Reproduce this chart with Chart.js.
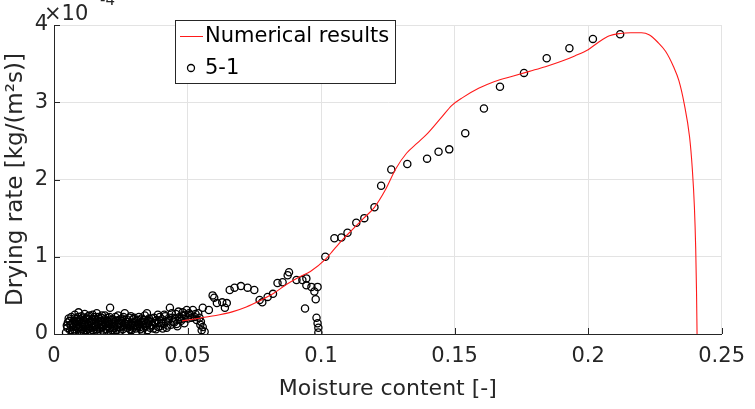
<!DOCTYPE html>
<html>
<head>
<meta charset="utf-8">
<script src="https://cdn.jsdelivr.net/npm/chart.js@4/dist/chart.umd.min.js"></script>
<style>
  html, body { margin: 0; padding: 0; background: #fff; }
  #wrap { width: 755px; height: 409px; }
</style>
</head>
<body>
<div id="wrap"><canvas id="myChart" width="755" height="409"></canvas></div>
<script>
// x ticks (moisture content) and y ticks (drying rate, in units of 1e-4)
const xTicks = [0, 0.05, 0.1, 0.15, 0.2, 0.25];
const yTicks = [0, 1, 2, 3, 4];

// Numerical results (red line), drying rate x 1e-4
const simX = [0.048, 0.052, 0.057, 0.062, 0.067, 0.072, 0.077, 0.082, 0.087, 0.092,
              0.096, 0.102, 0.104, 0.108, 0.112, 0.116, 0.120, 0.124, 0.128, 0.132,
              0.136, 0.140, 0.145, 0.149, 0.153, 0.159, 0.165, 0.172, 0.178, 0.184,
              0.190, 0.195, 0.200, 0.204, 0.208, 0.212, 0.216, 0.220, 0.223, 0.226,
              0.229, 0.232, 0.234, 0.236, 0.238, 0.239, 0.2398, 0.2403, 0.2406, 0.2408];
const simY = [0.17, 0.19, 0.22, 0.25, 0.29, 0.35, 0.43, 0.52, 0.64, 0.74,
              0.81, 0.98, 1.06, 1.22, 1.36, 1.50, 1.64, 1.86, 2.14, 2.34,
              2.47, 2.60, 2.80, 2.96, 3.06, 3.18, 3.27, 3.34, 3.40, 3.46,
              3.53, 3.60, 3.68, 3.78, 3.86, 3.89, 3.90, 3.90, 3.87, 3.78,
              3.66, 3.46, 3.28, 2.98, 2.55, 2.15, 1.65, 1.10, 0.55, 0];

// Experiment 5-1 (circles), pairs [moisture, drying rate x 1e-4]
const exp51 = [
  [0.0045,0.02],[0.005,0.08],[0.0052,0.15],[0.0055,0.2],[0.006,0.05],[0.0062,0.12],[0.0065,0.22],
  [0.007,0.01],[0.0072,0.09],[0.0075,0.17],[0.0078,0.25],[0.008,0.04],[0.0083,0.13],[0.0086,0.2],
  [0.009,0.07],[0.0092,0.28],[0.0095,0.16],[0.0098,0.02],[0.010,0.11],[0.0103,0.23],[0.0106,0.06],
  [0.011,0.18],[0.0112,0.14],[0.0115,0.26],[0.0118,0.03],[0.012,0.1],
  [0.0048,0.11],[0.0058,0.17],[0.0068,0.03],[0.0069,0.14],[0.0074,0.06],[0.0077,0.2],[0.0081,0.1],
  [0.0085,0.01],[0.0088,0.16],[0.0091,0.22],[0.0094,0.09],[0.0097,0.19],[0.0101,0.04],[0.0104,0.15],
  [0.0108,0.21],[0.0109,0.09],[0.0113,0.01],[0.0116,0.12],[0.0119,0.2],[0.0121,0.05],
  [0.0123,0.2],[0.0126,0.07],[0.013,0.15],[0.0133,0.24],[0.0136,0.01],[0.014,0.12],[0.0143,0.19],
  [0.0146,0.05],[0.015,0.22],[0.0153,0.09],[0.0156,0.16],[0.016,0.27],[0.0163,0.03],[0.0166,0.13],
  [0.017,0.2],[0.0173,0.08],[0.0176,0.17],[0.018,0.24],[0.0183,0.04],[0.0186,0.11],[0.019,0.19],
  [0.0193,0.14],[0.0196,0.06],[0.02,0.21],[0.0203,0.1],[0.0206,0.16],[0.021,0.34],[0.0213,0.02],
  [0.0216,0.13],[0.022,0.19],
  [0.0125,0.13],[0.0128,0.23],[0.0131,0.1],[0.0134,0.04],[0.0138,0.17],[0.0141,0.08],[0.0145,0.25],
  [0.0148,0.14],[0.0151,0.02],[0.0155,0.19],[0.0158,0.11],[0.0161,0.06],[0.0165,0.22],[0.0168,0.15],
  [0.0171,0.01],[0.0175,0.12],[0.0178,0.21],[0.0181,0.09],[0.0185,0.16],[0.0188,0.02],[0.0191,0.24],
  [0.0195,0.1],[0.0198,0.17],[0.0201,0.04],[0.0205,0.13],[0.0208,0.22],[0.0211,0.08],[0.0215,0.18],
  [0.0218,0.05],
  [0.0223,0.08],[0.0227,0.15],[0.023,0.22],[0.0234,0.05],[0.0238,0.12],[0.0242,0.18],[0.0246,0.09],
  [0.025,0.14],[0.0254,0.2],[0.0258,0.06],[0.0262,0.11],[0.0265,0.27],[0.027,0.16],[0.0274,0.08],
  [0.0278,0.13],[0.0282,0.21],[0.0286,0.1],[0.029,0.05],[0.0294,0.15],[0.0298,0.19],[0.0302,0.11],
  [0.0306,0.07],[0.031,0.17],[0.0314,0.13],[0.0318,0.22],[0.0322,0.09],[0.0326,0.15],[0.033,0.04],
  [0.0334,0.12],[0.0338,0.18],[0.0342,0.1],[0.0348,0.27],[0.0352,0.14],[0.0356,0.2],[0.036,0.08],
  [0.0225,0.11],[0.0229,0.02],[0.0232,0.17],[0.0236,0.09],[0.024,0.24],[0.0244,0.13],[0.0248,0.04],
  [0.0252,0.17],[0.0256,0.1],[0.026,0.22],[0.0264,0.14],[0.0268,0.03],[0.0272,0.19],[0.0276,0.11],
  [0.028,0.16],[0.0284,0.06],[0.0288,0.23],[0.0292,0.12],[0.0296,0.08],[0.03,0.21],[0.0304,0.15],
  [0.0308,0.03],[0.0312,0.1],[0.0316,0.18],[0.032,0.13],[0.0324,0.06],[0.0328,0.2],[0.0332,0.16],
  [0.0336,0.08],[0.034,0.24],[0.0345,0.14],[0.035,0.05],[0.0354,0.17],[0.0358,0.11],
  [0.0365,0.16],[0.037,0.11],[0.0375,0.21],[0.0382,0.06],[0.0389,0.25],[0.0393,0.15],[0.0398,0.1],
  [0.0404,0.19],[0.041,0.13],[0.0416,0.23],[0.0422,0.08],[0.0428,0.17],[0.0434,0.34],[0.0438,0.12],
  [0.0444,0.21],[0.045,0.15],[0.0456,0.26],[0.0462,0.1],[0.047,0.22],[0.0476,0.17],[0.0482,0.28],
  [0.0488,0.14],[0.0497,0.31],[0.0502,0.2],[0.051,0.25],[0.052,0.31],[0.0526,0.22],[0.0534,0.18],
  [0.054,0.27],[0.0548,0.12],[0.0557,0.09],[0.0564,0.03],[0.0557,0.34],
  [0.0368,0.2],[0.0372,0.07],[0.0378,0.14],[0.0385,0.18],[0.039,0.09],[0.0396,0.22],[0.0401,0.14],
  [0.0407,0.07],[0.0413,0.25],[0.0419,0.16],[0.0425,0.11],[0.0431,0.21],[0.0441,0.27],[0.0447,0.16],
  [0.0453,0.2],[0.0459,0.13],[0.0466,0.29],[0.0473,0.19],[0.0479,0.24],[0.0485,0.2],[0.0492,0.25],
  [0.0506,0.27],[0.0515,0.21],[0.053,0.26],[0.0545,0.21],[0.055,0.16],[0.0553,0.05],
  [0.058,0.31],[0.0594,0.5],[0.060,0.47],[0.061,0.4],[0.063,0.41],[0.064,0.34],[0.0647,0.4],
  [0.0658,0.57],[0.0676,0.6],[0.070,0.62],[0.0725,0.6],[0.075,0.57],[0.077,0.44],[0.078,0.41],
  [0.080,0.48],[0.082,0.52],[0.0837,0.66],[0.0856,0.67],[0.0875,0.76],[0.088,0.8],[0.0908,0.7],
  [0.093,0.7],[0.0945,0.72],[0.0945,0.63],[0.0964,0.61],[0.0975,0.55],[0.0987,0.61],[0.098,0.45],
  [0.094,0.33],[0.0983,0.21],[0.0987,0.14],[0.099,0.08],[0.099,0.02],
  [0.1016,1.0],[0.105,1.24],[0.1076,1.25],[0.1099,1.31],[0.1132,1.44],[0.1162,1.5],[0.12,1.64],
  [0.1225,1.92],[0.1263,2.13],[0.1323,2.2],[0.1397,2.27],[0.144,2.36],[0.148,2.39],[0.154,2.6],
  [0.161,2.92],[0.167,3.2],[0.176,3.38],[0.1845,3.57],[0.193,3.7],[0.2018,3.82],[0.212,3.88]
];

const FONT = 'DejaVu Sans';
const INK = '#262626';

const ctx = document.getElementById('myChart').getContext('2d');

// matlab style bits: inward ticks, exponent label, legend box inside the axes
const extras = {
    id: 'extras',
    afterDraw(chart) {
        const c = chart.ctx;
        const xs = chart.scales.x, ys = chart.scales.y;
        const area = chart.chartArea;
        c.save();
        c.strokeStyle = INK;
        c.lineWidth = 1;
        c.beginPath();
        xTicks.forEach(v => {
            const px = Math.round(xs.getPixelForValue(v)) + 0.5;
            c.moveTo(px, area.bottom);
            c.lineTo(px, area.bottom - 6);
        });
        yTicks.forEach(v => {
            const py = Math.round(ys.getPixelForValue(v)) + 0.5;
            c.moveTo(area.left, py);
            c.lineTo(area.left + 6, py);
        });
        c.stroke();

        // x10^-4
        c.fillStyle = INK;
        c.textBaseline = 'alphabetic';
        c.textAlign = 'left';
        c.font = '21px "' + FONT + '"';
        c.fillText('\u00d710', area.left - 10, 20);
        c.font = '15px "' + FONT + '"';
        c.fillText('-4', area.left + 46, 5);

        // legend
        const lx = 175, ly = 20, lw = 220, lh = 63;
        c.fillStyle = '#fff';
        c.fillRect(lx, ly, lw, lh);
        c.strokeStyle = INK;
        c.strokeRect(lx + 0.5, ly + 0.5, lw, lh);
        const ds = chart.data.datasets;
        c.strokeStyle = ds[0].borderColor;
        c.lineWidth = 1;
        c.beginPath();
        c.moveTo(180, 36.5);
        c.lineTo(203, 36.5);
        c.stroke();
        c.strokeStyle = '#000';
        c.lineWidth = 1.3;
        c.beginPath();
        c.arc(191, 68, 3.5, 0, Math.PI * 2);
        c.stroke();
        c.fillStyle = '#000';
        c.font = '21px "' + FONT + '"';
        c.textBaseline = 'middle';
        c.fillText(ds[0].label, 205, 37);
        c.fillText(ds[1].label, 205, 69);
        c.restore();
    }
};

const myChart = new Chart(ctx, {
    type: 'scatter',
    data: {
        datasets: [{
            label: 'Numerical results',
            data: simX.map((x, i) => ({x: x, y: simY[i]})),
            showLine: true,
            borderColor: '#ff1a1a',
            borderWidth: 1.1,
            pointRadius: 0,
            fill: false,
            cubicInterpolationMode: 'monotone'
        },
        {
            label: '5-1',
            data: exp51.map(p => ({x: p[0], y: p[1]})),
            showLine: false,
            pointStyle: 'circle',
            pointRadius: 3.6,
            pointBorderWidth: 1.3,
            pointBorderColor: '#000',
            pointBackgroundColor: 'rgba(0,0,0,0)'
        }]
    },
    options: {
        responsive: false,
        animation: false,
        layout: { padding: { top: 25, right: 32, left: 0, bottom: 0 } },
        plugins: {
            legend: { display: false },
            tooltip: { enabled: false }
        },
        scales: {
            x: {
                type: 'linear',
                min: 0,
                max: 0.25,
                afterFit: s => { s.height = 75; },
                afterBuildTicks: s => { s.ticks = xTicks.map(v => ({value: v})); },
                ticks: {
                    color: INK,
                    font: { family: FONT, size: 21 },
                    padding: 10,
                    maxRotation: 0,
                    callback: v => String(+v.toFixed(2))
                },
                grid: { color: '#e3e3e3', drawTicks: false },
                border: { color: INK, width: 1 },
                title: {
                    display: true,
                    text: 'Moisture content [-]',
                    color: INK,
                    font: { family: FONT, size: 22 },
                    padding: { top: 0, bottom: 7 }
                }
            },
            y: {
                type: 'linear',
                min: 0,
                max: 4,
                afterFit: s => { s.width = 54; },
                afterBuildTicks: s => { s.ticks = yTicks.map(v => ({value: v})); },
                ticks: {
                    color: INK,
                    font: { family: FONT, size: 21 },
                    padding: 6,
                    callback: v => String(v)
                },
                grid: { color: '#e3e3e3', drawTicks: false },
                border: { color: INK, width: 1 },
                title: {
                    display: true,
                    text: 'Drying rate [kg/(m\u00b2s)]',
                    color: INK,
                    font: { family: FONT, size: 23 },
                    padding: { top: 2, bottom: 0 }
                }
            }
        }
    },
    plugins: [extras]
});
</script>
</body>
</html>
